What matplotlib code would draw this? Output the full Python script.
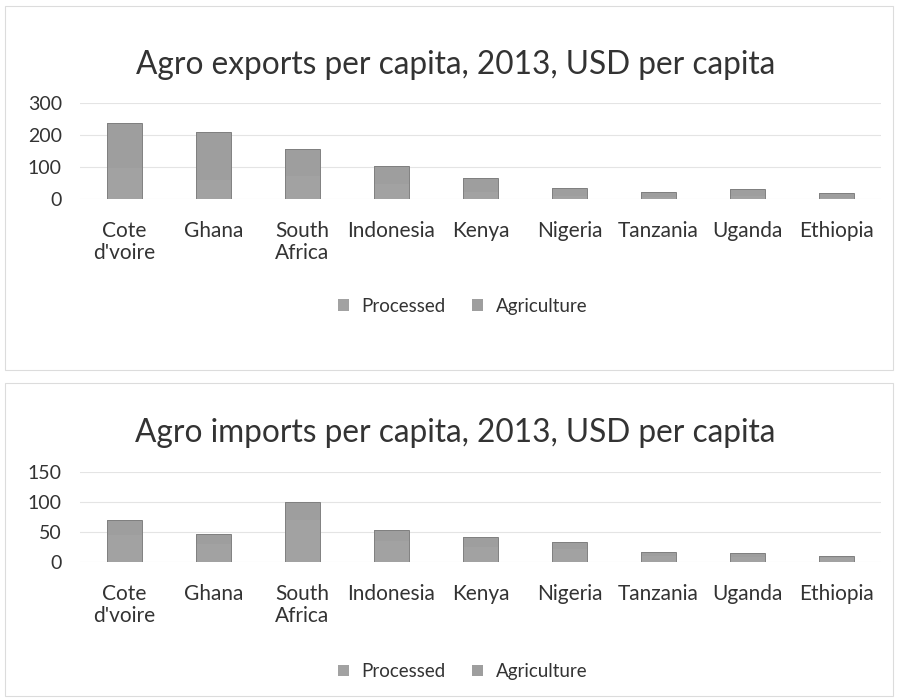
import numpy as np
import matplotlib.pyplot as plt
from matplotlib.patches import Rectangle

countries = ["Cote\nd'voire", "Ghana", "South\nAfrica", "Indonesia", "Kenya",
             "Nigeria", "Tanzania", "Uganda", "Ethiopia"]

# exports, USD per capita (stacked: processed + agriculture)
exp_processed = [95, 60, 70, 45, 20, 10, 6, 8, 4]
exp_agriculture = [142, 149, 86, 58, 45, 24, 16, 23, 15]

# imports, USD per capita
imp_processed = [45, 30, 70, 35, 25, 22, 10, 9, 6]
imp_agriculture = [25, 16, 30, 18, 16, 12, 7, 6, 4]

plt.rcParams['font.family'] = ['Lato', 'DejaVu Sans']

fig = plt.figure(figsize=(8.98, 7.0), dpi=100)

col_proc = '#a2a2a2'
col_agri = '#9e9e9e'
txt_col = '#333333'


def draw_panel(ax, proc, agri, ymax, step, title, title_y, legend_y):
    x = np.arange(len(countries))
    ax.bar(x, proc, width=0.39, color=col_proc, linewidth=0,
           label='Processed', zorder=3)
    ax.bar(x, agri, width=0.39, bottom=proc, color=col_agri, linewidth=0,
           label='Agriculture', zorder=3)
    # outline of the whole stack
    total = np.array(proc) + np.array(agri)
    ax.bar(x, total, width=0.39, fill=False, edgecolor='#808080',
           linewidth=0.7, zorder=4)
    ax.set_xlim(-0.5, len(countries) - 0.5)
    ax.set_ylim(0, ymax)
    ax.set_yticks(np.arange(0, ymax + 1, step))
    ax.set_xticks(x)
    ax.set_xticklabels(countries, fontsize=15, color=txt_col, linespacing=1.1)
    ax.tick_params(axis='y', labelsize=14, labelcolor=txt_col, length=0, pad=13)
    ax.tick_params(axis='x', length=0, pad=16)
    for s in ax.spines.values():
        s.set_visible(False)
    ax.grid(axis='y', color='#e4e4e4', linewidth=0.8, zorder=0)
    fig.text(0.507, title_y, title, ha='center', va='center', fontsize=22.8,
             color=txt_col)
    ax.legend(loc='center', bbox_to_anchor=(0.478, legend_y), ncol=2,
              frameon=False, fontsize=13.5, handlelength=0.55, handleheight=0.55,
              columnspacing=1.4, handletextpad=0.7, labelcolor=txt_col)


ax1 = fig.add_axes([0.089, 0.716, 0.892, 0.137])
draw_panel(ax1, exp_processed, exp_agriculture, 300, 100,
           'Agro exports per capita, 2013, USD per capita', 0.907, -1.12)

ax2 = fig.add_axes([0.089, 0.197, 0.892, 0.129])
draw_panel(ax2, imp_processed, imp_agriculture, 150, 50,
           'Agro imports per capita, 2013, USD per capita', 0.381, -1.21)

# light chart frames
fig.patches.append(Rectangle((0.006, 0.472), 0.988, 0.52, transform=fig.transFigure,
                             fill=False, edgecolor='#dcdcdc', linewidth=0.8))
fig.patches.append(Rectangle((0.006, 0.006), 0.988, 0.447, transform=fig.transFigure,
                             fill=False, edgecolor='#dcdcdc', linewidth=0.8))

fig.savefig('out.png', dpi=100, facecolor='white')
